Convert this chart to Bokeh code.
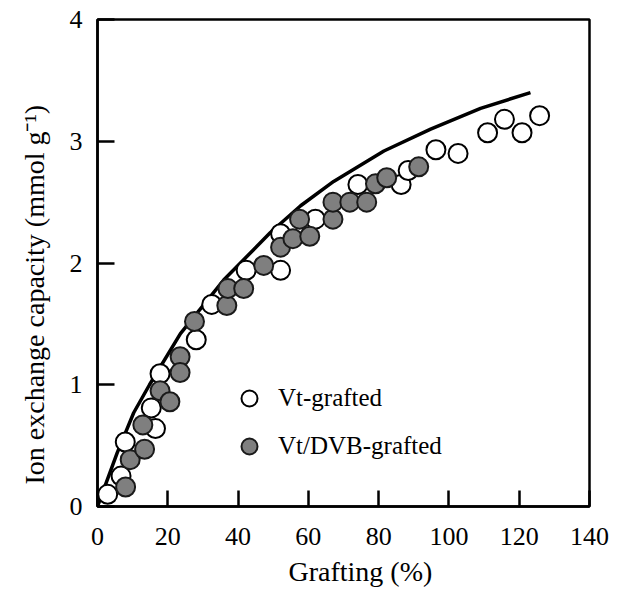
from bokeh.plotting import figure
from bokeh.models import Range1d, FixedTicker, Legend, LegendItem, Title, ColumnDataSource
from bokeh.embed import file_html
from bokeh.resources import INLINE

# ---- data ----
vt_x = [2.9, 6.7, 7.9, 15.3, 16.5, 17.8, 28.1, 32.5, 42.3, 52.1, 52.1, 62.0,
        74.1, 86.4, 88.4, 96.3, 102.6, 111.0, 115.8, 120.8, 125.8]
vt_y = [0.10, 0.25, 0.53, 0.81, 0.64, 1.09, 1.37, 1.66, 1.94, 1.94, 2.24, 2.36,
        2.645, 2.645, 2.76, 2.93, 2.90, 3.07, 3.18, 3.07, 3.21]

dvb_x = [8.0, 9.3, 13.4, 12.9, 17.8, 20.6, 23.5, 23.5, 27.6, 36.8, 37.1, 41.6,
         47.3, 52.1, 55.6, 60.4, 57.5, 67.0, 67.0, 71.8, 76.6, 79.1, 82.3, 91.4]
dvb_y = [0.16, 0.385, 0.47, 0.67, 0.95, 0.86, 1.23, 1.10, 1.52, 1.65, 1.79, 1.79,
         1.98, 2.13, 2.20, 2.22, 2.36, 2.36, 2.50, 2.50, 2.50, 2.65, 2.70, 2.79]

curve_x = [0, 5.6, 10.3, 14.8, 23.6, 35.9, 49.2, 57.8, 67.2, 81.5, 94.8, 109.0, 123.2]
curve_y = [0, 0.44, 0.77, 1.00, 1.42, 1.86, 2.25, 2.47, 2.67, 2.92, 3.10, 3.27, 3.40]

x_ticks = [0, 20, 40, 60, 80, 100, 120, 140]
y_ticks = [0, 1, 2, 3, 4]

x_label = "Grafting (%)"
y_label = "Ion exchange capacity (mmol g\u207B\u00B9)"
series_names = ["Vt-grafted", "Vt/DVB-grafted"]

FONT = "Liberation Serif"

p = figure(width=617, height=592, output_backend="svg", toolbar_location=None,
           x_range=Range1d(0, 140), y_range=Range1d(0, 4),
           min_border_left=97, min_border_right=28, min_border_top=19, min_border_bottom=85)
p.background_fill_color = "white"
p.border_fill_color = "white"
p.grid.visible = False
p.outline_line_color = "black"
p.outline_line_width = 2.5

for ax in (p.xaxis[0], p.yaxis[0]):
    ax.axis_line_width = 2.5
    ax.axis_line_color = "black"
    ax.major_tick_line_width = 2.5
    ax.major_tick_line_color = "black"
    ax.major_tick_out = 0
    ax.minor_tick_line_color = None
    ax.major_label_text_font = FONT
    ax.major_label_text_font_size = "26px"
    ax.major_label_text_color = "black"

p.xaxis[0].ticker = FixedTicker(ticks=x_ticks)
p.yaxis[0].ticker = FixedTicker(ticks=y_ticks)
p.xaxis[0].major_tick_in = 16
p.yaxis[0].major_tick_in = 17
p.xaxis[0].major_label_standoff = 21
p.yaxis[0].major_label_standoff = 15

# model curve
p.line(curve_x, curve_y, line_color="black", line_width=3.5)

vt_src = ColumnDataSource(dict(x=vt_x, y=vt_y))
dvb_src = ColumnDataSource(dict(x=dvb_x, y=dvb_y))
r_vt = p.scatter("x", "y", source=vt_src, marker="circle", size=19,
                 fill_color="white", line_color="black", line_width=2.0)
r_dvb = p.scatter("x", "y", source=dvb_src, marker="circle", size=19,
                  fill_color="#7f7f7f", line_color="#1a1a1a", line_width=2.0)

legend = Legend(items=[LegendItem(label=series_names[0], renderers=[r_vt]),
                       LegendItem(label=series_names[1], renderers=[r_dvb])],
                location=(132, 40), glyph_width=40, glyph_height=40,
                label_height=40, spacing=8, padding=0, margin=0,
                label_standoff=9, border_line_color=None, background_fill_alpha=0,
                label_text_font=FONT, label_text_font_size="25px",
                label_text_color="black")
p.add_layout(legend, "center")

# axis titles
p.add_layout(Title(text=x_label, align="left", offset=191, text_font=FONT,
                   text_font_size="28px", text_font_style="normal",
                   text_color="black", standoff=12), "below")
p.add_layout(Title(text=y_label, align="left", offset=22, text_font=FONT,
                   text_font_size="28px", text_font_style="normal",
                   text_color="black", standoff=33), "left")

open("out.html", "w").write(file_html(p, INLINE))
